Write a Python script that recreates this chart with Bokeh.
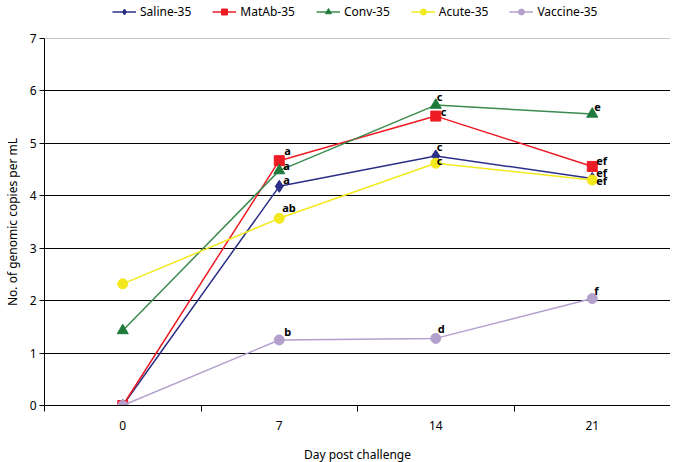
from bokeh.plotting import figure
from bokeh.models import FixedTicker, Legend, LegendItem, ColumnDataSource, Span, Range1d
from bokeh.layouts import column
from bokeh.embed import file_html
from bokeh.resources import INLINE
from bokeh.core.properties import value

days = [0, 7, 14, 21]
series_names = ["Saline-35", "MatAb-35", "Conv-35", "Acute-35", "Vaccine-35"]
saline = [0.0, 4.18, 4.76, 4.33]
matab = [0.0, 4.67, 5.52, 4.56]
conv = [1.43, 4.48, 5.73, 5.56]
acute = [2.32, 3.57, 4.62, 4.30]
vaccine = [0.0, 1.25, 1.28, 2.04]

saline_lbl = ["", "a", "c", "ef"]
matab_lbl = ["", "a", "c", "ef"]
conv_lbl = ["", "a", "c", "e"]
acute_lbl = ["", "ab", "c", "ef"]
vaccine_lbl = ["", "b", "d", "f"]

y_ticks = [0, 1, 2, 3, 4, 5, 6, 7]

# styles
colors = ["#2B2F87", "#ED1C24", "#1E7B3C", "#F2E81C", "#B3A0CC"]
line_colors = ["#2B2F87", "#ED1C24", "#3C8A50", "#F2E81C", "#B3A0CC"]
markers = ["diamond", "square", "triangle", "circle", "circle"]
sizes = [12, 10, 11, 10, 10]
dx = [[0, 4, 1, 4], [0, 5, 5, 4], [0, 4, 1, 2], [0, 3, 1, 4], [0, 5, 2, 2]]
dy = [[0, -7, -9, -6], [0, -10, -5, -6], [0, -5, -9, -7], [0, -11, -3, 0], [0, -8, -10, -8]]

FONT = "Noto Sans"
FW, FH = 626, 367
TOP_H = 22
TOTAL_W = 43 + FW

all_vals = [saline, matab, conv, acute, vaccine]
all_lbls = [saline_lbl, matab_lbl, conv_lbl, acute_lbl, vaccine_lbl]

# ---- legend strip (same series, drawn off-screen so only the legend shows) ----
lg = figure(width=TOTAL_W, height=TOP_H, x_range=Range1d(-200, -199), y_range=Range1d(-200, -199),
            x_axis_type=None, y_axis_type=None, output_backend="svg", toolbar_location=None,
            min_border=0)
lg.outline_line_color = None
lg.xgrid.grid_line_color = None
lg.ygrid.grid_line_color = None
items = []
for i, (name, vals) in enumerate(zip(series_names, all_vals)):
    s = ColumnDataSource(dict(x=days, y=vals))
    ln = lg.line("x", "y", source=s, line_color=line_colors[i], line_width=1.5)
    sc = lg.scatter("x", "y", source=s, marker=markers[i], size=sizes[i],
                    fill_color=colors[i], line_color=colors[i])
    items.append(LegendItem(label=name, renderers=[ln, sc]))
legend = Legend(items=items, orientation="horizontal", location=(68, 2))
legend.label_text_font = FONT
legend.label_text_font_size = "12px"
legend.label_text_color = "black"
legend.glyph_width = 24
legend.glyph_height = 15
legend.label_height = 12
legend.label_standoff = 4
legend.spacing = 21
legend.padding = 0
legend.margin = 0
legend.border_line_color = None
legend.background_fill_alpha = 0
lg.add_layout(legend, "center")

# ---- main chart ----
p = figure(frame_width=FW, frame_height=FH, x_range=(-3.5, 24.5), y_range=(0, 7),
           output_backend="svg", toolbar_location=None,
           min_border_left=43, min_border_right=0, min_border_top=38 - TOP_H, min_border_bottom=50)
p.outline_line_color = None
p.background_fill_color = "white"
p.xgrid.grid_line_color = None
p.ygrid.ticker = FixedTicker(ticks=[1, 2, 3, 4, 5, 6])
p.ygrid.grid_line_color = "black"
p.ygrid.grid_line_width = 1
p.add_layout(Span(location=7, dimension="width", line_color="#888888", line_width=1))

p.xaxis.ticker = FixedTicker(ticks=days, minor_ticks=[-3.5, 3.5, 10.5, 17.5, 24.5])
p.xaxis.major_tick_out = 0
p.xaxis.major_tick_in = 0
p.xaxis.minor_tick_out = 6
p.xaxis.minor_tick_in = 0
p.xaxis.minor_tick_line_color = "black"
p.xaxis.major_label_standoff = 9
p.xaxis.axis_label = "Day post challenge"
p.xaxis.axis_label_standoff = 13

p.yaxis.ticker = FixedTicker(ticks=y_ticks)
p.yaxis.major_tick_out = 5
p.yaxis.major_tick_in = 0
p.yaxis.minor_tick_out = 0
p.yaxis.minor_tick_in = 0
p.yaxis.major_label_standoff = 3
p.yaxis.axis_label = "No. of genomic copies per mL"
p.yaxis.axis_label_standoff = 6

for ax in (p.xaxis, p.yaxis):
    ax.axis_line_color = "black"
    ax.major_tick_line_color = "black"
    ax.major_label_text_font = FONT
    ax.major_label_text_font_size = "12px"
    ax.major_label_text_color = "black"
    ax.axis_label_text_font = FONT
    ax.axis_label_text_font_size = "12px"
    ax.axis_label_text_font_style = "normal"
    ax.axis_label_text_color = "black"

for i, (name, vals, lbls) in enumerate(zip(series_names, all_vals, all_lbls)):
    src = ColumnDataSource(dict(x=days, y=vals, t=lbls, dx=dx[i], dy=dy[i]))
    p.line("x", "y", source=src, line_color=line_colors[i], line_width=1.5)
    p.scatter("x", "y", source=src, marker=markers[i], size=sizes[i],
              fill_color=colors[i], line_color=colors[i])
    p.text("x", "y", text="t", source=src, x_offset="dx", y_offset="dy",
           text_align="left", text_baseline="middle", text_font=value(FONT),
           text_font_size="11px", text_font_style="bold", text_color="black")

layout = column(lg, p, spacing=0)
open("out.html", "w").write(file_html(layout, INLINE))
